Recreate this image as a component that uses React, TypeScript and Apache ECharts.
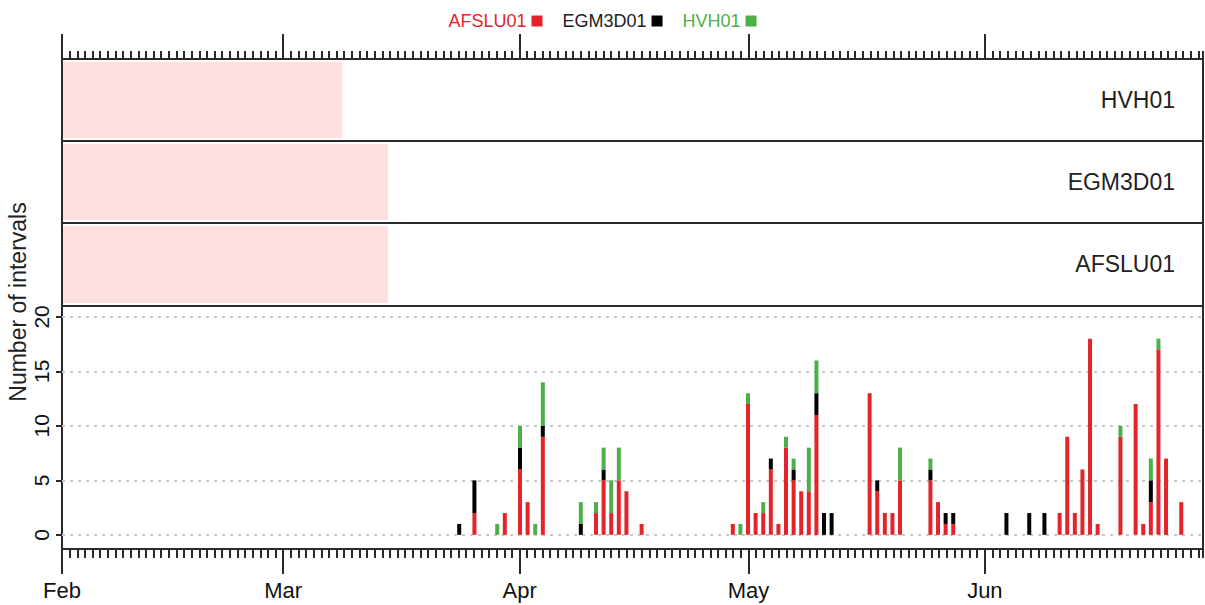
import React, { useEffect, useRef } from "react";
import * as echarts from "echarts";

// ---- data ----
const origin = "2016-02-01";
const axisEnd = "2016-06-29T14:24";
const monthTicks = ["2016-02-01", "2016-03-01", "2016-04-01", "2016-05-01", "2016-06-01"];
const monthLabels = ["Feb", "Mar", "Apr", "May", "Jun"];
const panels = ["HVH01", "EGM3D01", "AFSLU01"];
const coverageStart = ["2016-02-01", "2016-02-01", "2016-02-01"];
const coverageEnd = ["2016-03-08T18:40", "2016-03-14T18:00", "2016-03-14T18:00"];
const yTicks = [0, 5, 10, 15, 20];

const dates = [
  "2016-03-24", "2016-03-26", "2016-03-29", "2016-03-30", "2016-04-01", "2016-04-02", "2016-04-03", "2016-04-04",
  "2016-04-09", "2016-04-11", "2016-04-12", "2016-04-13", "2016-04-14", "2016-04-15", "2016-04-17",
  "2016-04-29", "2016-04-30", "2016-05-01", "2016-05-02", "2016-05-03", "2016-05-04", "2016-05-05", "2016-05-06",
  "2016-05-07", "2016-05-08", "2016-05-09", "2016-05-10", "2016-05-11", "2016-05-12",
  "2016-05-17", "2016-05-18", "2016-05-19", "2016-05-20", "2016-05-21",
  "2016-05-25", "2016-05-26", "2016-05-27", "2016-05-28",
  "2016-06-04", "2016-06-07", "2016-06-09", "2016-06-11", "2016-06-12", "2016-06-13", "2016-06-14", "2016-06-15",
  "2016-06-16", "2016-06-19", "2016-06-21", "2016-06-22", "2016-06-23", "2016-06-24", "2016-06-25", "2016-06-27",
];
const afslu01 = [
  0, 2, 0, 2, 6, 3, 0, 9,
  0, 2, 5, 2, 5, 4, 1,
  1, 0, 12, 2, 2, 6, 1, 8,
  5, 4, 4, 11, 0, 0,
  13, 4, 2, 2, 5,
  5, 3, 1, 1,
  0, 0, 0, 2, 9, 2, 6, 18,
  1, 9, 12, 1, 3, 17, 7, 3,
];
const egm3d01 = [
  1, 3, 0, 0, 2, 0, 0, 1,
  1, 0, 1, 0, 0, 0, 0,
  0, 0, 0, 0, 0, 1, 0, 0,
  1, 0, 0, 2, 2, 2,
  0, 1, 0, 0, 0,
  1, 0, 1, 1,
  2, 2, 2, 0, 0, 0, 0, 0,
  0, 0, 0, 0, 2, 0, 0, 0,
];
const hvh01 = [
  0, 0, 1, 0, 2, 0, 1, 4,
  2, 1, 2, 3, 3, 0, 0,
  0, 1, 1, 0, 1, 0, 0, 1,
  1, 0, 4, 3, 0, 0,
  0, 0, 0, 0, 3,
  1, 0, 0, 0,
  0, 0, 0, 0, 0, 0, 0, 0,
  0, 1, 0, 0, 2, 1, 0, 0,
];

const seriesNames = ["AFSLU01", "EGM3D01", "HVH01"];
const seriesColors = ["#e3242b", "#000000", "#4daf4a"];
const legendTextColors = ["#e3242b", "#222222", "#4daf4a"];

// ---- helpers ----
const DAY = 86400000;
const parse = (s: string) => Date.parse(s.length > 10 ? s + ":00Z" : s + "T00:00:00Z");
const t0 = parse(origin);
const toDay = (s: string) => (parse(s) - t0) / DAY;

const xMin = 0;
const xMax = toDay(axisEnd);
const monthDays = monthTicks.map(toDay);

const FONT = "Liberation Sans, Arial, Helvetica, sans-serif";
const AX = "#2a2a2a";

export default function App() {
  const ref = useRef<HTMLDivElement>(null);
  useEffect(() => {
    document.body.style.margin = "0";
    if (!ref.current) return;
    const chart = echarts.init(ref.current, null, { renderer: "svg" });

    const L = 62;
    const R = 2;
    const panelTops = [59, 141, 223];
    const panelH = [82, 82, 83];
    const grids: any[] = panels.map((_, i) => ({
      left: L, right: R, top: panelTops[i], height: panelH[i],
      show: true, borderColor: AX, borderWidth: 2, backgroundColor: "transparent",
    }));
    grids.push({ left: L, right: R, top: 306, height: 243, show: true, borderColor: AX, borderWidth: 2 });

    const noLine = { show: false, onZero: false };
    const hiddenX = (gi: number) => ({
      type: "value", gridIndex: gi, min: xMin, max: xMax,
      axisLine: noLine, axisTick: { show: false }, axisLabel: { show: false }, splitLine: { show: false },
    });

    const xAxes: any[] = [];
    // 0..2: panel axes (panel 0's axis carries daily top ticks)
    panels.forEach((_, i) => {
      if (i === 0) {
        xAxes.push({
          type: "value", gridIndex: 0, position: "top", min: xMin, max: xMax, interval: 1,
          axisLine: noLine,
          axisTick: { show: true, inside: false, length: 8, lineStyle: { color: AX, width: 2 } },
          axisLabel: { show: false }, splitLine: { show: false },
        });
      } else {
        xAxes.push(hiddenX(i));
      }
    });
    // 3: top month ticks
    xAxes.push({
      type: "value", gridIndex: 0, position: "top", min: xMin, max: xMax,
      axisLine: noLine,
      axisTick: { show: true, customValues: monthDays, length: 25, lineStyle: { color: AX, width: 2 } },
      axisLabel: { show: false }, splitLine: { show: false },
    });
    // 4: bottom daily ticks
    xAxes.push({
      type: "value", gridIndex: 3, position: "bottom", min: xMin, max: xMax, interval: 1,
      axisLine: noLine,
      axisTick: { show: true, length: 9, lineStyle: { color: AX, width: 2 } },
      axisLabel: { show: false }, splitLine: { show: false },
    });
    // 5: bottom month ticks + labels
    xAxes.push({
      type: "value", gridIndex: 3, position: "bottom", min: xMin, max: xMax,
      axisLine: noLine,
      axisTick: { show: true, customValues: monthDays, length: 25, lineStyle: { color: AX, width: 2 } },
      axisLabel: {
        show: true, customValues: monthDays, margin: 30, fontSize: 22, color: "#111", fontFamily: FONT,
        formatter: (v: number) => {
          const k = monthDays.findIndex((d) => Math.abs(d - v) < 0.01);
          return k >= 0 ? monthLabels[k] : "";
        },
      },
      splitLine: { show: false },
    });
    // 6: hidden time axis used by the stacked bars (same span)
    xAxes.push({
      type: "time", gridIndex: 3, position: "bottom", min: t0 + xMin * DAY, max: t0 + xMax * DAY,
      axisLine: noLine, axisTick: { show: false }, axisLabel: { show: false }, splitLine: { show: false },
    });

    const yAxes: any[] = panels.map((_, i) => ({
      type: "value", gridIndex: i, min: -0.04, max: 1.04, show: false,
    }));
    yAxes.push({
      type: "value", gridIndex: 3, min: -1.3, max: 21,
      axisLine: { show: false },
      axisTick: { show: true, customValues: yTicks, length: 6, lineStyle: { color: AX, width: 2 } },
      axisLabel: {
        show: true, customValues: yTicks, rotate: 90, margin: 10, fontSize: 21, color: "#111", fontFamily: FONT,
      },
      splitLine: { show: true, lineStyle: { color: "#c8c8c8", width: 2, type: [3, 5] } },
    });

    const coverageSeries = panels.map((name, i) => ({
      type: "custom",
      name: name + " coverage",
      xAxisIndex: i,
      yAxisIndex: i,
      silent: true,
      data: [[toDay(coverageStart[i]), toDay(coverageEnd[i])]],
      encode: { x: [0, 1] },
      renderItem: (_p: any, api: any) => {
        const a = api.coord([api.value(0), 1]);
        const b = api.coord([api.value(1), 0]);
        return {
          type: "rect",
          shape: { x: a[0] + 1, y: a[1], width: b[0] - a[0] - 1, height: b[1] - a[1] },
          style: { fill: "#ffdfdf" },
        };
      },
      z: 1,
    }));

    const values = [afslu01, egm3d01, hvh01];
    const barSeries = seriesNames.map((name, k) => ({
      type: "bar",
      name,
      stack: "total",
      xAxisIndex: 6,
      yAxisIndex: 3,
      barWidth: 4,
      itemStyle: { color: seriesColors[k] },
      data: dates.map((d, j) => [parse(d), values[k][j]]),
      z: 3,
    }));

    const graphics: any[] = panels.map((name, i) => ({
      type: "text",
      right: 30,
      top: panelTops[i] + panelH[i] / 2 - 12,
      style: { text: name, fontSize: 23, fill: "#222", fontFamily: FONT },
    }));
    graphics.push({
      type: "text",
      x: 18,
      y: 302,
      rotation: Math.PI / 2,
      style: {
        text: "Number of intervals", fontSize: 23, fill: "#222", fontFamily: FONT,
        align: "center", verticalAlign: "middle",
      },
    });

    chart.setOption({
      animation: false,
      backgroundColor: "#ffffff",
      textStyle: { fontFamily: FONT },
      legend: {
        top: 7,
        left: "center",
        align: "right",
        icon: "rect",
        itemWidth: 11,
        itemHeight: 11,
        itemGap: 20,
        selectedMode: false,
        textStyle: { fontSize: 18, fontFamily: FONT },
        data: seriesNames.map((n, k) => ({ name: n, textStyle: { color: legendTextColors[k] } })),
      },
      grid: grids,
      xAxis: xAxes,
      yAxis: yAxes,
      graphic: graphics,
      series: [...coverageSeries, ...barSeries],
    });

    return () => chart.dispose();
  }, []);
  return <div ref={ref} style={{ width: 1205, height: 605 }} />;
}
